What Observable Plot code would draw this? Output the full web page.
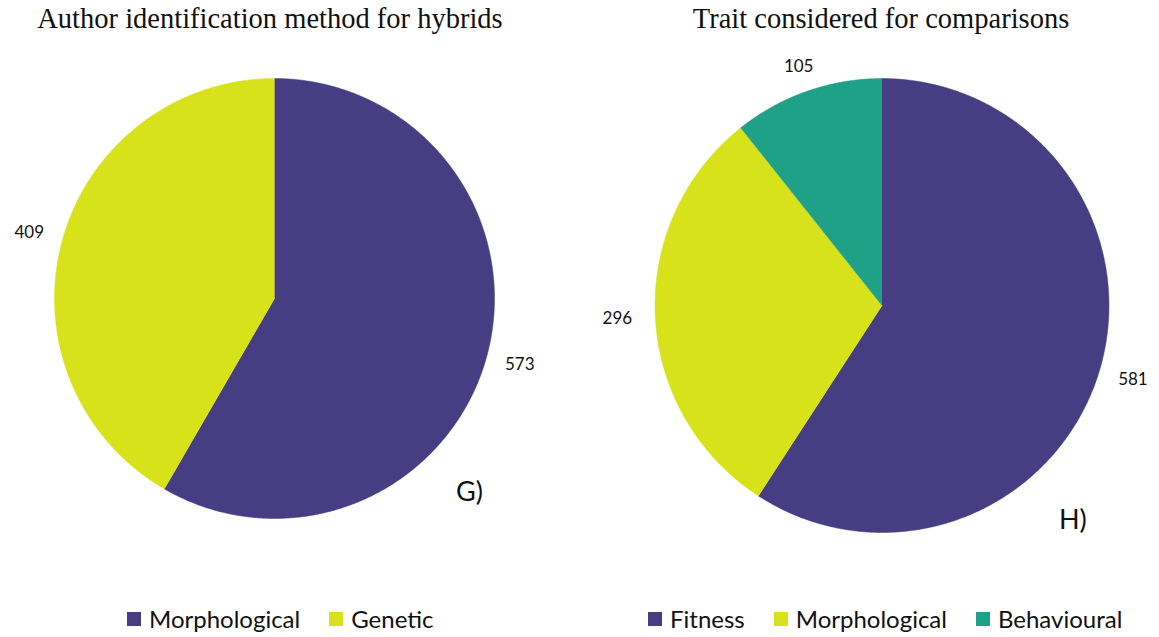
<!DOCTYPE html>
<html>
<head>
<meta charset="utf-8">
<script src="https://cdn.jsdelivr.net/npm/d3@7"></script>
<script src="https://cdn.jsdelivr.net/npm/@observablehq/plot@0.6"></script>
<style>
  html, body { margin: 0; padding: 0; background: #fff; }
  #page { position: relative; width: 1159px; height: 637px; overflow: hidden; }
  .title { position: absolute; top: 3px; font-family: "Liberation Serif", "Times New Roman", serif; font-size: 28.5px; color: #111; white-space: nowrap; transform: translateX(-50%); }
  .chart { position: absolute; top: 0; }
  .legend { position: absolute; top: 604px; display: flex; align-items: center; font-family: Lato, "Open Sans", sans-serif; font-size: 24px; color: #111; white-space: nowrap; }
  .legend .item { display: flex; align-items: center; margin-right: 29px; }
  .legend .sw { width: 14px; height: 14px; margin-right: 8px; }
  .tag { position: absolute; font-family: Lato, "Open Sans", sans-serif; font-size: 27px; color: #111; }
</style>
</head>
<body>
<div id="page"></div>
<script>
// ---- data ----
const leftTitle = "Author identification method for hybrids";
const leftCategories = ["Morphological", "Genetic"];
const leftValues = [573, 409];
const leftColors = ["#463d82", "#d8e21a"];

const rightTitle = "Trait considered for comparisons";
const rightCategories = ["Fitness", "Morphological", "Behavioural"];
const rightValues = [581, 296, 105];
const rightColors = ["#463d82", "#d8e21a", "#1fa187"];

// ---- helpers ----
function slicePoints(cats, values) {
  const total = d3.sum(values);
  const pts = [];
  let acc = 0;
  cats.forEach((c, i) => {
    const a0 = acc / total * 2 * Math.PI;
    acc += values[i];
    const a1 = acc / total * 2 * Math.PI;
    pts.push({key: c, x: 0, y: 0});
    const n = Math.max(2, Math.ceil((a1 - a0) / (Math.PI / 360)));
    for (let k = 0; k <= n; k++) {
      const a = a0 + (a1 - a0) * k / n;
      pts.push({key: c, x: Math.sin(a), y: Math.cos(a)});
    }
  });
  return pts;
}
function labelPoints(cats, values, f) {
  const total = d3.sum(values);
  let acc = 0;
  return cats.map((c, i) => {
    const mid = (acc + values[i] / 2) / total * 2 * Math.PI;
    acc += values[i];
    // labels near the top/bottom sit a little closer (text box is shorter than wide)
    const ff = f - 0.06 * Math.abs(Math.cos(mid));
    return {key: c, value: values[i], x: ff * Math.sin(mid), y: ff * Math.cos(mid)};
  });
}
function pie(cats, values, colors, w, cx, cy, r) {
  return Plot.plot({
    width: w, height: 637, margin: 0,
    x: {domain: [-1, 1], range: [cx - r, cx + r], axis: null},
    y: {domain: [-1, 1], range: [cy + r, cy - r], axis: null},
    color: {domain: cats, range: colors},
    style: {background: "transparent", overflow: "visible"},
    marks: [
      Plot.line(slicePoints(cats, values), {x: "x", y: "y", z: "key", fill: "key", stroke: "key", strokeWidth: 0.5, curve: "linear"}),
      Plot.text(labelPoints(cats, values, 1.17), {x: "x", y: "y", text: d => String(d.value), fontSize: 17, fontFamily: "Lato, 'Open Sans', sans-serif", fill: "#111", textAnchor: "middle"})
    ]
  });
}

const page = document.getElementById("page");
function addChart(svg, left) {
  const d = document.createElement("div");
  d.className = "chart"; d.style.left = left + "px";
  d.appendChild(svg); page.appendChild(d);
}
addChart(pie(leftCategories, leftValues, leftColors, 580, 274, 298, 220), 0);
addChart(pie(rightCategories, rightValues, rightColors, 579, 301.5, 305, 227), 580);

function addTitle(text, cx) {
  const t = document.createElement("div");
  t.className = "title"; t.textContent = text; t.style.left = cx + "px";
  page.appendChild(t);
}
addTitle(leftTitle, 270);
addTitle(rightTitle, 881);

function addLegend(cats, colors, left) {
  const l = document.createElement("div");
  l.className = "legend"; l.style.left = left + "px";
  cats.forEach((c, i) => {
    const it = document.createElement("div"); it.className = "item";
    const sw = document.createElement("div"); sw.className = "sw"; sw.style.background = colors[i];
    const tx = document.createElement("span"); tx.textContent = c;
    it.appendChild(sw); it.appendChild(tx); l.appendChild(it);
  });
  page.appendChild(l);
}
addLegend(leftCategories, leftColors, 127);
addLegend(rightCategories, rightColors, 648);

function addTag(text, left, top) {
  const t = document.createElement("div");
  t.className = "tag"; t.textContent = text; t.style.left = left + "px"; t.style.top = top + "px";
  page.appendChild(t);
}
addTag("G)", 456, 474);
addTag("H)", 1059, 502);
</script>
</body>
</html>
